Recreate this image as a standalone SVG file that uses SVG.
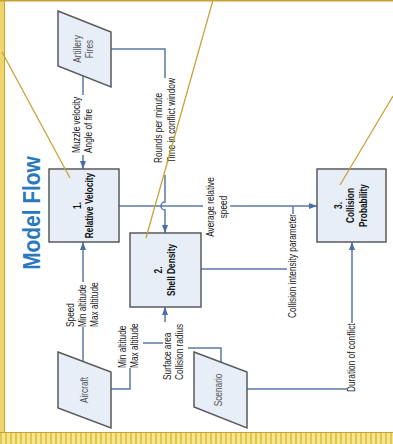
<svg xmlns="http://www.w3.org/2000/svg" width="393" height="444" viewBox="0 0 393 444">
<style>
.node{fill:#e7eef8;stroke:#5a5a5a;stroke-width:1.5}
.conn{fill:none;stroke:#5a78a6;stroke-width:1.5}
.gold{fill:none;stroke:#c9a23a;stroke-width:1.3}
text{font-family:"Liberation Sans",Arial,sans-serif}
.lbl{font-size:10px;fill:#1a1a1a}
.nl{font-size:10px;fill:#111;font-weight:bold}
.ext{font-size:10px;fill:#555}
.title{font-size:24px;font-weight:bold;fill:#2a79bd}
</style>
<defs>
<marker id="arr" viewBox="0 0 8 6" refX="8" refY="3" markerWidth="8" markerHeight="6" markerUnits="userSpaceOnUse" orient="auto">
<path d="M0,0 L8,3 L0,6 z" fill="#4a6ea8"/>
</marker>
<pattern id="stripes" x="0" y="0" width="5" height="11" patternUnits="userSpaceOnUse">
<rect width="5" height="11" fill="#f6e68c"/>
<rect width="2" height="11" fill="#e2c454"/>
</pattern>
</defs>
<rect width="393" height="444" fill="#ffffff"/>
<g id="frame">
<rect x="0" y="0" width="4" height="444" fill="#efd56a"/>
<line x1="4.5" y1="0" x2="4.5" y2="433" stroke="#c9a232" stroke-width="1"/>
<line x1="0" y1="0.7" x2="393" y2="0.7" stroke="#c9a232" stroke-width="1.5"/>
<rect x="0" y="433" width="393" height="11" fill="url(#stripes)"/>
<line x1="0" y1="432.5" x2="393" y2="432.5" stroke="#c9a232" stroke-width="1"/>
</g>
<text class="title" text-anchor="middle" transform="translate(40,213) rotate(-90) scale(0.87,1)">Model Flow</text>
<g id="connectors">
<path class="conn" d="M83,76 V95"/>
<path class="conn" d="M83,155 V169" marker-end="url(#arr)"/>
<path class="conn" d="M111,49 H165 V78"/>
<path class="conn" d="M165,175 V202 A4,4 0 0 0 165,210 V233" marker-end="url(#arr)"/>
<path class="conn" d="M119,206 H203"/>
<path class="conn" d="M230,206 H317" marker-end="url(#arr)"/>
<path class="conn" d="M201,269 H287"/>
<path class="conn" d="M293,206 V214"/>
<path class="conn" d="M83,362 V327"/>
<path class="conn" d="M83,282 V242" marker-end="url(#arr)"/>
<path class="conn" d="M111,389 H130 V368"/>
<path class="conn" d="M143,343 H163"/>
<path class="conn" d="M165,322 V307" marker-end="url(#arr)"/>
<path class="conn" d="M221,362 V348 H188"/>
<path class="conn" d="M247,389 H347"/>
<path class="conn" d="M352,323 V242" marker-end="url(#arr)"/>
</g>
<g id="labels">
<text class="lbl" transform="translate(79.75,153) rotate(-90) scale(0.83,1)"><tspan x="0">Muzzle velocity</tspan><tspan x="0" dy="12.5">Angle of fire</tspan></text>
<text class="lbl" transform="translate(162.25,163) rotate(-90) scale(0.83,1)"><tspan x="0">Rounds per minute</tspan><tspan x="0" dy="12.5">Time in conflict window</tspan></text>
<text class="lbl" text-anchor="middle" transform="translate(214.25,207) rotate(-90) scale(0.83,1)"><tspan x="0">Average relative</tspan><tspan x="0" dy="12.5">speed</tspan></text>
<text class="lbl" text-anchor="middle" transform="translate(296,266) rotate(-90) scale(0.83,1)">Collision intensity parameter</text>
<text class="lbl" transform="translate(355,392) rotate(-90) scale(0.83,1)">Duration of conflict</text>
<text class="lbl" transform="translate(73.5,327) rotate(-90) scale(0.83,1)"><tspan x="0">Speed</tspan><tspan x="0" dy="12.5">Min altitude</tspan><tspan x="0" dy="12.5">Max altitude</tspan></text>
<text class="lbl" transform="translate(125.75,368) rotate(-90) scale(0.83,1)"><tspan x="0">Min altitude</tspan><tspan x="0" dy="12.5">Max altitude</tspan></text>
<text class="lbl" transform="translate(170.75,380) rotate(-90) scale(0.83,1)"><tspan x="0">Surface area</tspan><tspan x="0" dy="12.5">Collision radius</tspan></text>
</g>
<g id="artillery">
<polygon class="node" points="58,11 111,32 111,87 58,66"/>
<text class="ext" text-anchor="middle" transform="translate(80.5,49) rotate(-90) scale(0.83,1)"><tspan x="0">Artillery</tspan><tspan x="0" dy="13">Fires</tspan></text>
</g>
<g id="relative-velocity">
<rect class="node" x="49" y="169" width="70" height="73"/>
<text class="nl" text-anchor="middle" transform="translate(80.5,205.5) rotate(-90) scale(0.83,1)"><tspan x="0">1.</tspan><tspan x="0" dy="13">Relative Velocity</tspan></text>
</g>
<g id="shell-density">
<rect class="node" x="130" y="233" width="71" height="74"/>
<text class="nl" text-anchor="middle" transform="translate(162,270) rotate(-90) scale(0.83,1)"><tspan x="0">2.</tspan><tspan x="0" dy="13">Shell Density</tspan></text>
</g>
<g id="collision-probability">
<rect class="node" x="317" y="169" width="69" height="73"/>
<text class="nl" text-anchor="middle" transform="translate(341.5,205.5) rotate(-90) scale(0.83,1)"><tspan x="0">3.</tspan><tspan x="0" dy="13">Collision</tspan><tspan x="0" dy="13">Probability</tspan></text>
</g>
<g id="aircraft">
<polygon class="node" points="58,352 111,372 111,428 58,408"/>
<text class="ext" text-anchor="middle" transform="translate(88,390) rotate(-90) scale(0.83,1)">Aircraft</text>
</g>
<g id="scenario">
<polygon class="node" points="194,352 247,372 247,428 194,407"/>
<text class="ext" text-anchor="middle" transform="translate(222,390) rotate(-90) scale(0.83,1)">Scenario</text>
</g>
<g id="callouts">
<line class="gold" x1="2" y1="52" x2="70" y2="178"/>
<line class="gold" x1="213" y1="0" x2="146" y2="238"/>
<line class="gold" x1="393" y1="96" x2="340" y2="185"/>
</g>
</svg>
